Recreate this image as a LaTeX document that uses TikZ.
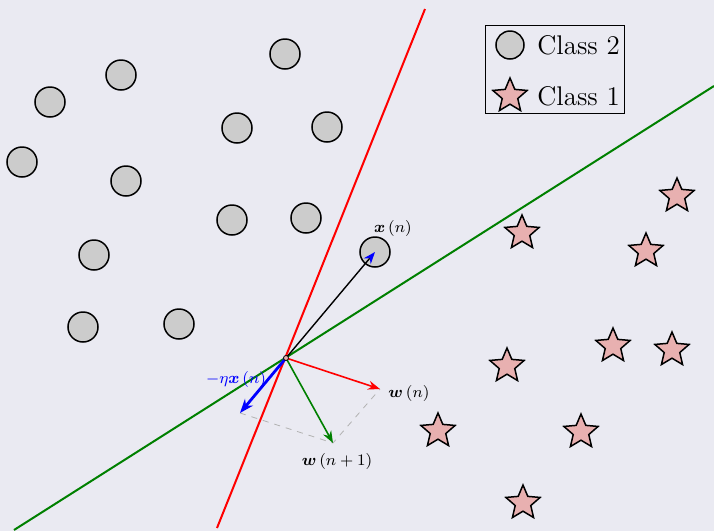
\documentclass[tikz,border=0pt]{standalone}
\usepackage{amsmath,amssymb,amsfonts}
\usepackage{tikz}
\usetikzlibrary{arrows.meta,positioning,calc,shapes.geometric}
\usepackage{xcolor}
\definecolor{bgpaper}{RGB}{234,234,242}
\definecolor{ptgray}{RGB}{204,204,204}
\definecolor{ptpink}{RGB}{232,176,176}
\definecolor{sepgreen}{RGB}{0,128,0}

\begin{document}
\begin{tikzpicture}[x=0.5pt, y=-0.5pt,
    classtwo/.style={circle, draw, fill=ptgray, line width=0.75pt, minimum size=15pt, inner sep=0pt},
    classone/.style={star, star points=5, star point ratio=2.2, draw, fill=ptpink, line width=0.75pt, minimum size=18pt, inner sep=0pt},
    lbl/.style={font=\footnotesize},
    legtext/.style={font=\fontsize{13.5pt}{16pt}\selectfont, inner sep=0pt, anchor=west}
]
\useasboundingbox[fill=bgpaper] (0,0) rectangle (714,531);

% class 2 points
\node[classtwo] (c1) at (285,54) {};
\node[classtwo] (c2) at (121,75) {};
\node[classtwo] (c3) at (50,102) {};
\node[classtwo] (c4) at (237,128) {};
\node[classtwo] (c5) at (327,127) {};
\node[classtwo] (c6) at (22,162) {};
\node[classtwo] (c7) at (126,181) {};
\node[classtwo] (c8) at (232,220) {};
\node[classtwo] (c9) at (306,218) {};
\node[classtwo] (xn) at (375,252) {};
\node[classtwo] (c11) at (94,255) {};
\node[classtwo] (c12) at (83,327) {};
\node[classtwo] (c13) at (179,324) {};

% class 1 points
\node[classone] (s1) at (677,196) {};
\node[classone] (s2) at (522,233) {};
\node[classone] (s3) at (646,251) {};
\node[classone] (s4) at (613,346) {};
\node[classone] (s5) at (672,350) {};
\node[classone] (s6) at (507,366) {};
\node[classone] (s7) at (438,431) {};
\node[classone] (s8) at (581,432) {};
\node[classone] (s9) at (523,503) {};

% separating lines
\coordinate (redA) at (217,528);
\coordinate (redB) at (425,9);
\coordinate (grnA) at (14,530);
\coordinate (grnB) at (714,86);
\draw[red, line width=1pt] (redA) -- (redB);
\draw[sepgreen, line width=1pt] (grnA) -- (grnB);

% vectors
\coordinate (o) at (286,358);
\coordinate (wn) at (380,389);
\coordinate (wnn) at (333,443);
\coordinate (etax) at (240,413);
\draw[gray!60, dashed, line width=0.4pt] (etax) -- (wnn) -- (wn);
\draw[-{Stealth[length=6pt, color=blue]}, line width=0.7pt] (o) -- (xn.center);
\draw[-{Stealth[length=6pt]}, red, line width=0.8pt] (o) -- (wn);
\draw[-{Stealth[length=6pt]}, sepgreen, line width=0.8pt] (o) -- (wnn);
\draw[-{Stealth[length=7pt]}, blue, line width=1.4pt] (o) -- (etax);
\node[circle, draw, fill=ptpink, inner sep=0pt, minimum size=2.5pt, line width=0.4pt] (orig) at (o) {};

\node[lbl] (lxn) at (393,228) {$\boldsymbol{x}\left(n\right)$};
\node[lbl] (lwn) at (409,393) {$\boldsymbol{w}\left(n\right)$};
\node[lbl] (lwnn) at (337,461) {$\boldsymbol{w}\left(n+1\right)$};
\node[lbl, blue] (letax) at (236,379) {$-\eta\boldsymbol{x}\left(n\right)$};

% legend
\node[draw, line width=0.5pt, minimum width=69.5pt, minimum height=44pt, inner sep=0pt] (legend) at (554.5,69) {};
\node[classtwo, minimum size=14pt] (lc) at (510,45) {};
\node[classone] (ls) at (510,96) {};
\node[legtext] (ltwo) at (537,45) {Class 2};
\node[legtext] (lone) at (537,96) {Class 1};
\end{tikzpicture}
\end{document}
